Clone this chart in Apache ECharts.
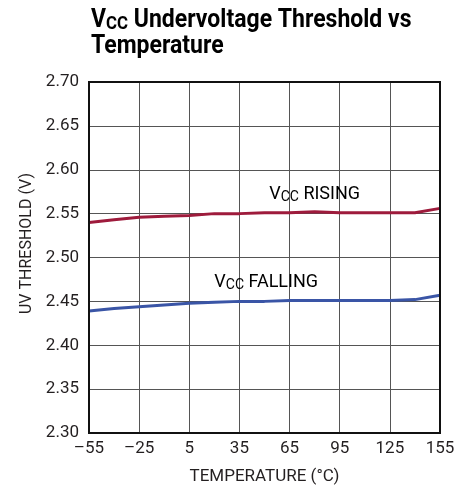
<!DOCTYPE html>
<html>
<head>
<meta charset="utf-8">
<script src="https://cdn.jsdelivr.net/npm/echarts@6/dist/echarts.min.js"></script>
<style>
  html, body { margin: 0; padding: 0; background: #fff; }
  #chart { width: 471px; height: 490px; }
</style>
</head>
<body>
<div id="chart"></div>
<script>
// temperature points (°C)
const temps = [-55, -40, -25, -10, 5, 20, 35, 50, 65, 80, 95, 110, 125, 140, 155];
// UV threshold readings (V)
const rising = [2.540, 2.543, 2.546, 2.547, 2.548, 2.550, 2.550, 2.551, 2.551, 2.552, 2.551, 2.551, 2.551, 2.551, 2.556];
const falling = [2.439, 2.442, 2.444, 2.446, 2.448, 2.449, 2.450, 2.450, 2.451, 2.451, 2.451, 2.451, 2.451, 2.452, 2.457];

const FONT = "Roboto, 'Liberation Sans', sans-serif";
const TXT = '#231f20';

const chart = echarts.init(document.getElementById('chart'));

const zip = (xs, ys) => xs.map((x, i) => [x, ys[i]]);

const options = {
  backgroundColor: '#fff',
  animation: false,
  grid: { left: 89, right: 31, top: 82, bottom: 56 },
  xAxis: {
    type: 'value',
    min: -55,
    max: 155,
    interval: 30,
    name: 'TEMPERATURE (°C)',
    nameLocation: 'middle',
    nameGap: 35,
    nameTextStyle: { fontFamily: FONT, fontSize: 17, color: TXT },
    axisLine: { onZero: false, lineStyle: { color: '#111', width: 2 } },
    axisTick: { show: false },
    splitLine: { lineStyle: { color: '#555', width: 1 } },
    axisLabel: {
      fontFamily: FONT, fontSize: 17, color: TXT, margin: 7,
      formatter: v => String(v).replace('-', '\u2013')
    }
  },
  yAxis: {
    type: 'value',
    min: 2.30,
    max: 2.70,
    interval: 0.05,
    name: 'UV THRESHOLD (V)',
    nameLocation: 'middle',
    nameGap: 54,
    nameTextStyle: { fontFamily: FONT, fontSize: 16, color: TXT, padding: [0, 0, 0, 28] },
    axisLine: { onZero: false, lineStyle: { color: '#111', width: 2 } },
    axisTick: { show: false },
    splitLine: { lineStyle: { color: '#555', width: 1 } },
    axisLabel: {
      fontFamily: FONT, fontSize: 17, color: TXT, margin: 10,
      formatter: v => v.toFixed(2)
    }
  },
  series: [
    {
      name: 'VCC RISING',
      type: 'line',
      data: zip(temps, rising),
      showSymbol: false,
      lineStyle: { color: '#9e1b3c', width: 3 },
      z: 3
    },
    {
      name: 'VCC FALLING',
      type: 'line',
      data: zip(temps, falling),
      showSymbol: false,
      lineStyle: { color: '#3a55a6', width: 3 },
      z: 3
    }
  ]
};

chart.setOption(options);

const tl = chart.convertToPixel({ gridIndex: 0 }, [-55, 2.70]);
const br = chart.convertToPixel({ gridIndex: 0 }, [155, 2.30]);
const pRise = chart.convertToPixel({ gridIndex: 0 }, [80, 2.572]);
const pFall = chart.convertToPixel({ gridIndex: 0 }, [51, 2.472]);

const labelRich = {
  v: { fontFamily: FONT, fontSize: 18, color: TXT },
  s: { fontFamily: FONT, fontSize: 14, color: TXT, padding: [7, 0, 0, 0] }
};

const titleRich = {
  v: { fontFamily: FONT, fontWeight: 'bold', fontSize: 26, color: '#000', lineHeight: 26 },
  s: { fontFamily: FONT, fontWeight: 'bold', fontSize: 19, color: '#000', lineHeight: 26, padding: [9, 0, 0, 0] }
};

chart.setOption({
  graphic: [
    {
      type: 'text', x: 91, y: 7, scaleX: 0.885,
      style: {
        text: '{v|V}{s|CC}{v| Undervoltage Threshold vs}\n{v|Temperature}',
        rich: titleRich, align: 'left', verticalAlign: 'top'
      },
      z: 11
    },
    {
      type: 'rect',
      shape: { x: tl[0], y: tl[1], width: br[0] - tl[0], height: br[1] - tl[1] },
      style: { fill: 'none', stroke: '#111', lineWidth: 2 },
      z: 10, silent: true
    },
    {
      type: 'text', x: pRise[0], y: pRise[1],
      style: { text: '{v|V}{s|CC}{v| RISING}', rich: labelRich, align: 'center', verticalAlign: 'middle' },
      z: 11
    },
    {
      type: 'text', x: pFall[0], y: pFall[1],
      style: { text: '{v|V}{s|CC}{v| FALLING}', rich: labelRich, align: 'center', verticalAlign: 'middle' },
      z: 11
    }
  ]
});

window.addEventListener('resize', () => chart.resize());
</script>
</body>
</html>
